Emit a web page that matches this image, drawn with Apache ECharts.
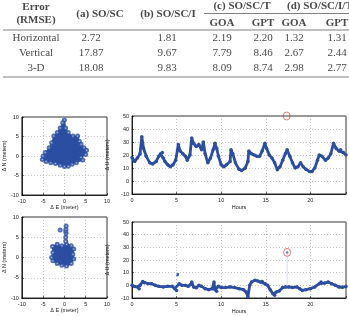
<html>
<head>
    <meta charset="utf-8">
    <title>RMSE and position error plots</title>
    <script src="https://cdn.jsdelivr.net/npm/echarts@6/dist/echarts.min.js"></script>
</head>
<body style="margin:0">
    <div id="main" style="width:349px;height:316px"></div>
    <script type="text/javascript">
    // table values
    var rowNames = ['Horizontal', 'Vertical', '3-D'];
    var colA = [2.72, 17.87, 18.08];
    var colB = [1.81, 9.67, 9.83];
    var colCgoa = [2.19, 7.79, 8.09];
    var colCgpt = [2.20, 8.46, 8.74];
    var colDgoa = [1.32, 2.67, 2.98];
    var colDgpt = [1.31, 2.44, 2.77];

    // dU time series, upper run (hours, meters)
    var hoursTop = [0,0.3,0.6,0.9,1.1,1.3,1.6,2.0,2.3,2.7,3.0,3.2,3.4,3.5,3.7,4.0,4.3,4.6,4.9,5.1,5.2,5.4,5.7,6.0,6.2,6.5,6.7,6.9,7.2,7.5,7.8,8.0,8.2,8.5,8.8,9.1,9.3,9.5,9.7,10.0,10.3,10.6,11.0,11.1,11.3,11.6,12.0,12.3,12.7,13.0,13.1,13.4,13.7,14.0,14.3,14.6,14.9,15.1,15.4,15.7,16.0,16.3,16.6,16.9,17.2,17.4,17.7,18.0,18.3,18.6,18.9,19.2,19.5,19.9,20.2,20.5,20.8,21.0,21.3,21.7,22.0,22.3,22.6,22.9,23.2,23.4,23.7,24];
    var duTop = [18,15,17.6,21,34,25,19,14,13,15,19,21,22,17.6,15,12.5,11,12.5,16,24,28,23,21,19,16,20,33,29,26.5,28,24,30,21,14,17.6,24,29,25,19,12.5,11,12.5,15,24,21,14,9,8,10,15,23,21,20,19,19,23,29,25,20,17.6,14,8.7,11,16,21,24,19,14,10,11,14,11,9,7.4,7.4,10,16,20,19,16,17.6,21,29,25,23,24,22,20];
    var outTopH = [17.35];
    var outTopU = [50];

    // dU time series, lower run
    var hoursBot = [0,0.3,0.6,0.8,0.9,1.2,1.4,1.8,2.2,2.6,3.0,3.5,4.0,4.5,4.8,5.0,5.3,5.6,6.0,6.3,6.6,6.7,6.9,7.2,7.5,7.8,8.2,8.6,9.0,9.2,9.3,9.5,9.7,10.0,10.5,11.0,11.5,12.0,12.5,12.8,13.0,13.2,13.4,13.8,14.1,14.4,14.6,14.9,15.2,15.5,15.8,16.0,16.2,16.5,16.9,17.2,17.6,18.0,18.5,18.8,19.1,19.5,20.0,20.5,21.0,21.2,21.6,22.0,22.4,22.8,23.2,23.6,24];
    var duBot = [0,-1,-1.3,-2.6,0,3,2,1.3,1.3,0,-0.8,-1.3,-0.8,-0.8,-2.6,-4,1.3,0,0,-0.8,0.8,2.6,-1.3,-2,0,-0.8,-2.6,-3.4,-2.6,2.6,-3.4,-4.7,-0.8,-1.8,-1.8,-1.3,-1.8,-2.6,-3.4,-5.3,-9,0,2.6,4,3.4,2.6,3,1.3,0,-3.4,-6.6,-7.9,-5.3,-4.5,-1.8,-1.3,-1.3,-1.8,-1.3,-2.6,-4,-3.4,-2.6,-1.3,1.3,2.6,1.8,2.6,1.3,0,-1.3,-1.5,-1];
    var extraBotH = [5.1, 5.15, 17.4];
    var extraBotU = [8, 9, 26];
    var outBotH = [17.4];
    var outBotU = [26];

    // dE/dN clouds (outline of the filled point cloud)
    var blobTopE = [0,0.3,0.9,2,3.1,3.5,3.9,4.6,5.2,5,3.9,4.3,2.8,1.8,0.9,0,-1,-2.1,-3.2,-4.3,-5.2,-5,-4.5,-3.6,-3,-2.5,-1.7,-1,-0.4];
    var blobTopN = [9.2,7.2,6,5.1,5.1,3.8,3,2.1,1.5,0.4,-0.4,-1,-1.7,-2.1,-2.6,-2.7,-2.4,-1.9,-1.7,-1.4,-0.9,0,0.9,2.1,3.4,5.1,6,7.2,8.5];
    var blobBotE = [-2.8,-1.7,-0.6,0.5,1.6,2.2,2,2.2,1.6,0.5,-0.6,-1.7,-2.7,-3,-2.7];
    var blobBotN = [2.7,3.3,2.9,3.3,2.9,2.1,0.8,-0.4,-1.5,-2.1,-1.9,-1.5,-0.8,0,1.25];
    var stalkE = [0.3,0.3,0.4,0.3,0.35,0.4,-1];
    var stalkN = [4,5,6,6.5,7,7.8,6.8];

    var blue = '#2b4ea3';
    var red = '#d9403a';
    var ink = '#4a4a4a';
    var serif = '"Liberation Serif", "DejaVu Serif", serif';

    function zip(a, b) { return a.map(function (v, i) { return [v, b[i]]; }); }

    function blobRender(E, N) {
        return function (params, api) {
            var pts = E.map(function (e, i) { return api.coord([e, N[i]]); });
            return { type: 'polygon', shape: { points: pts, smooth: 0.2 },
                     style: { fill: blue, stroke: blue, lineWidth: 1 } };
        };
    }

    // table drawn as graphic texts
    var g = [];
    function txt(x, y, s, bold, align) {
        g.push({ type: 'text', x: x, y: y, style: { text: s, fill: ink,
            font: (bold ? 'bold ' : '') + '11px ' + serif,
            textAlign: align || 'center', textVerticalAlign: 'middle' } });
    }
    function hline(x1, x2, y) {
        g.push({ type: 'line', shape: { x1: x1, y1: y, x2: x2, y2: y },
                 style: { stroke: '#808080', lineWidth: 1.2 } });
    }
    txt(36, 7, 'Error', true); txt(36, 20, '(RMSE)', true);
    txt(100, 14, '(a) SO/SC', true); txt(168, 14, '(b) SO/SC/I', true);
    txt(242, 6, '(c) SO/SC/T', true); txt(287, 6, '(d) SO/SC/I/T', true, 'left');
    hline(204, 349, 13.5);
    txt(222, 23, 'GOA', true); txt(263, 23, 'GPT', true);
    txt(294, 23, 'GOA', true); txt(337, 23, 'GPT', true);
    hline(3, 349, 30);
    var rowY = [38, 53, 68];
    var cols = [[colA, 91], [colB, 167], [colCgoa, 222], [colCgpt, 263], [colDgoa, 294], [colDgpt, 337]];
    rowNames.forEach(function (name, i) {
        txt(36, rowY[i], name, false);
        cols.forEach(function (c) { txt(c[1], rowY[i], c[0][i].toFixed(2), false); });
    });
    hline(3, 349, 77);

    var axFont = { fontSize: 5.5, color: '#222', margin: 3 };
    function ax(min, max, interval, name, gap, extra) {
        var o = {
            min: min, max: max, interval: interval, type: 'value',
            name: name, nameLocation: 'middle', nameGap: gap,
            nameTextStyle: { fontSize: 5.5, color: '#222' },
            axisLine: { show: true, onZero: false, lineStyle: { color: '#000', width: 0.8 } },
            axisTick: { show: true, inside: true, length: 2, lineStyle: { color: '#000', width: 0.6 } },
            splitLine: { show: true, lineStyle: { color: '#999', width: 0.6, type: [1, 2] } },
            axisLabel: axFont
        };
        for (var k in extra) o[k] = extra[k];
        return o;
    }
    var hourLabel = { axisLabel: { fontSize: 5.5, color: '#222', margin: 3,
        formatter: function (v) { return v % 5 === 0 ? v : ''; } } };

    var gridBox = { show: true, borderColor: '#000', borderWidth: 0.8, backgroundColor: '#fff' };
    var ring = { color: 'rgba(0,0,0,0)', borderColor: red, borderWidth: 0.9 };
    var myChart = echarts.init(document.getElementById('main'));
    var option = {
        animation: false,
        backgroundColor: '#fff',
        graphic: g,
        grid: [
            Object.assign({ left: 18, top: 117, width: 89, height: 78 }, gridBox),
            Object.assign({ left: 18, top: 217, width: 89, height: 81 }, gridBox),
            Object.assign({ left: 132, top: 116, width: 223.2, height: 78 }, gridBox),
            Object.assign({ left: 132, top: 222, width: 223.2, height: 76 }, gridBox)
        ],
        xAxis: [
            ax(-10, 10, 5, 'Δ E (meter)', 9, { gridIndex: 0 }),
            ax(-10, 10, 5, 'Δ E (meter)', 9, { gridIndex: 1 }),
            ax(0, 24, 5, 'Hours', 10, Object.assign({ gridIndex: 2 }, hourLabel)),
            ax(0, 24, 5, 'Hours', 10, Object.assign({ gridIndex: 3 }, hourLabel))
        ],
        yAxis: [
            ax(-10, 10, 5, 'Δ N (meters)', 10, { gridIndex: 0 }),
            ax(-10, 10, 5, 'Δ N (meters)', 10, { gridIndex: 1 }),
            ax(-10, 50, 10, 'Δ U (meters)', 11, { gridIndex: 2 }),
            ax(-10, 50, 10, 'Δ U (meters)', 11, { gridIndex: 3 })
        ],
        series: [
            { type: 'custom', xAxisIndex: 0, yAxisIndex: 0, data: [[0, 0]],
              renderItem: blobRender(blobTopE, blobTopN) },
            { type: 'scatter', xAxisIndex: 0, yAxisIndex: 0, symbol: 'emptyCircle', symbolSize: 3,
              itemStyle: { color: blue, borderColor: blue, borderWidth: 0.6 }, data: zip(blobTopE, blobTopN) },
            { type: 'custom', xAxisIndex: 1, yAxisIndex: 1, data: [[0, 0]],
              renderItem: blobRender(blobBotE, blobBotN) },
            { type: 'scatter', xAxisIndex: 1, yAxisIndex: 1, symbol: 'emptyCircle', symbolSize: 3,
              itemStyle: { color: blue, borderColor: blue, borderWidth: 0.6 },
              data: zip(blobBotE, blobBotN).concat(zip(stalkE, stalkN)) },
            { type: 'line', xAxisIndex: 2, yAxisIndex: 2, data: zip(hoursTop, duTop),
              symbol: 'circle', symbolSize: 3.5, showAllSymbol: true,
              lineStyle: { color: blue, width: 2.8 }, itemStyle: { color: blue } },
            { type: 'scatter', xAxisIndex: 2, yAxisIndex: 2, data: zip(outTopH, outTopU), clip: false,
              symbol: 'circle', symbolSize: [7, 8], itemStyle: ring },
            { type: 'line', xAxisIndex: 3, yAxisIndex: 3, data: zip(hoursBot, duBot),
              symbol: 'circle', symbolSize: 3.5, showAllSymbol: true,
              lineStyle: { color: blue, width: 2.8 }, itemStyle: { color: blue } },
            { type: 'line', xAxisIndex: 3, yAxisIndex: 3, symbol: 'none',
              data: [[outBotH[0], -1.3], [outBotH[0], outBotU[0]]],
              lineStyle: { color: '#b4bfd9', width: 0.6 } },
            { type: 'scatter', xAxisIndex: 3, yAxisIndex: 3, data: zip(extraBotH, extraBotU),
              symbol: 'circle', symbolSize: 2.5, itemStyle: { color: blue } },
            { type: 'scatter', xAxisIndex: 3, yAxisIndex: 3, data: zip(outBotH, outBotU), clip: false,
              symbol: 'circle', symbolSize: [7, 8], itemStyle: ring }
        ]
    };
    myChart.setOption(option);
    </script>
</body>
</html>
